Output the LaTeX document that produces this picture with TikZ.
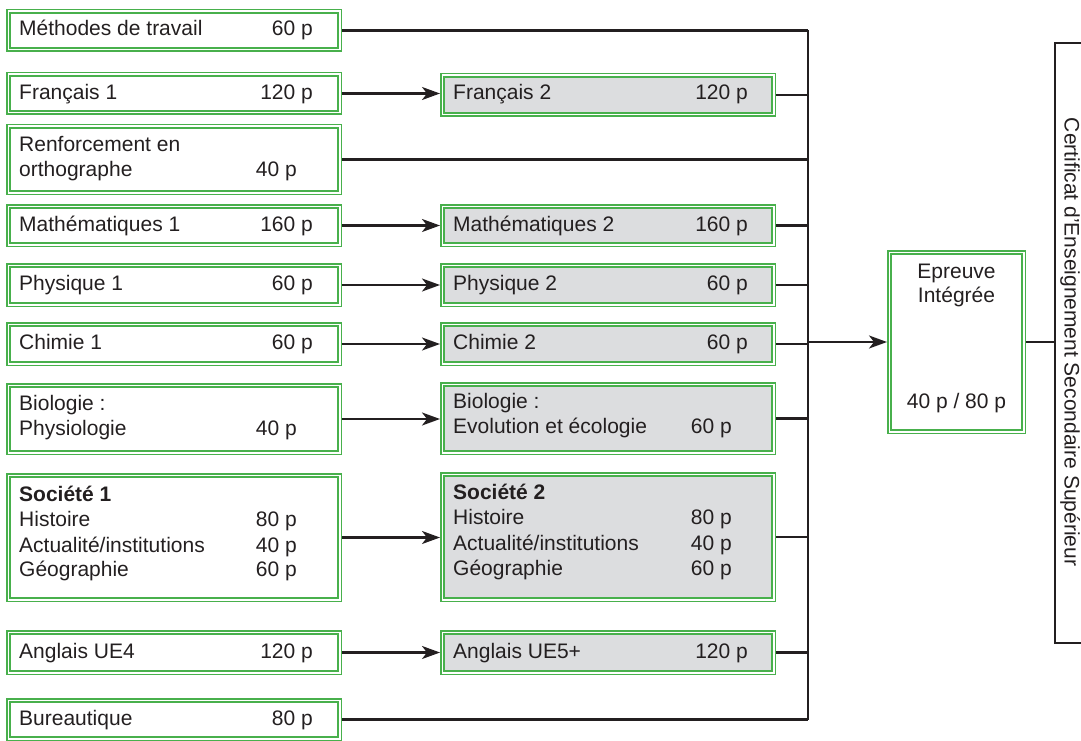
\documentclass[tikz,border=0pt]{standalone}
\usepackage{fontspec}
\setmainfont{Liberation Sans}
\usetikzlibrary{arrows.meta}
\definecolor{boxgreen}{RGB}{72,176,76}
\definecolor{boxgray}{RGB}{220,221,223}
\definecolor{ink}{RGB}{35,31,32}
\begin{document}
\begin{tikzpicture}[x=1pt,y=-1pt,
  box/.style={draw=boxgreen, double=white, line width=1.5pt, double distance=1.8pt,
    outer sep=2.4pt, inner sep=0pt, anchor=north west, minimum width=331.2pt},
  graybox/.style={box, fill=boxgray},
  lbl/.style={font=\fontsize{21}{26}\selectfont, text=ink, inner sep=0pt, anchor=base west},
  num/.style={lbl, anchor=base east},
  mid/.style={lbl, anchor=base},
  conn/.style={draw=ink, line width=2.2pt},
  arr/.style={conn, -{Stealth[length=18pt, width=13pt, inset=5pt]}}
]
\useasboundingbox (0,0) rectangle (1081,741);

% ---------- column 1 ----------
\node[box, minimum height=38.2pt] (meth) at (6,9) {};
\node[box, minimum height=38.2pt] (fr1) at (6,72) {};
\node[box, minimum height=66.2pt] (renf) at (6,124) {};
\node[box, minimum height=38.2pt] (math1) at (6,204) {};
\node[box, minimum height=39.2pt] (phys1) at (6,263) {};
\node[box, minimum height=39.2pt] (chim1) at (6,322) {};
\node[box, minimum height=67.2pt] (bio1) at (6,383) {};
\node[box, minimum height=124.2pt] (soc1) at (6,473) {};
\node[box, minimum height=40.2pt] (angl1) at (6,630) {};
\node[box, minimum height=38.2pt] (bur) at (6,698) {};

% ---------- column 2 ----------
\node[graybox, minimum height=39.2pt] (fr2) at (440,73) {};
\node[graybox, minimum height=38.2pt] (math2) at (440,204) {};
\node[graybox, minimum height=39.2pt] (phys2) at (440,263) {};
\node[graybox, minimum height=39.2pt] (chim2) at (440,322) {};
\node[graybox, minimum height=68.2pt] (bio2) at (440,382) {};
\node[graybox, minimum height=125.2pt] (soc2) at (440,472) {};
\node[graybox, minimum height=40.2pt] (angl2) at (440,630) {};

% ---------- epreuve & certificat ----------
\node[box, minimum width=134.2pt, minimum height=179.2pt] (epr) at (887,250) {};
\node[draw=ink, line width=2.2pt, anchor=north west, minimum width=60pt, minimum height=600pt, inner sep=0pt] (cert) at (1054,42) {};

% ---------- texts column 1 ----------
\node[lbl] (t1) at (19,36) {Méthodes de travail};
\node[num] (n1) at (313,36) {60 p};
\node[lbl] (t2) at (19,100) {Français 1};
\node[num] (n2) at (313,100) {120 p};
\node[lbl] (t3a) at (19,151.7) {Renforcement en};
\node[lbl] (t3b) at (19,176) {orthographe};
\node[num] (n3) at (297,176) {40 p};
\node[lbl] (t4) at (19,231.7) {Mathématiques 1};
\node[num] (n4) at (313,231.7) {160 p};
\node[lbl] (t5) at (19,290) {Physique 1};
\node[num] (n5) at (313,290) {60 p};
\node[lbl] (t6) at (19,349.3) {Chimie 1};
\node[num] (n6) at (313,349.3) {60 p};
\node[lbl] (t7a) at (19,410.7) {Biologie :};
\node[lbl] (t7b) at (19,435) {Physiologie};
\node[num] (n7) at (297,435) {40 p};
\node[lbl, font=\fontsize{21}{26}\selectfont\bfseries] (t8a) at (19,501) {Société 1};
\node[lbl] (t8b) at (19,526.7) {Histoire};
\node[num] (n8b) at (297,526.7) {80 p};
\node[lbl] (t8c) at (19,552.3) {Actualité/institutions};
\node[num] (n8c) at (297,552.3) {40 p};
\node[lbl] (t8d) at (19,576.7) {Géographie};
\node[num] (n8d) at (297,576.7) {60 p};
\node[lbl] (t9) at (19,658.3) {Anglais UE4};
\node[num] (n9) at (313,658.3) {120 p};
\node[lbl] (t10) at (19,725) {Bureautique};
\node[num] (n10) at (313,725) {80 p};

% ---------- texts column 2 ----------
\node[lbl] (u2) at (453,100) {Français 2};
\node[num] (m2) at (748,100) {120 p};
\node[lbl] (u4) at (453,231.7) {Mathématiques 2};
\node[num] (m4) at (748,231.7) {160 p};
\node[lbl] (u5) at (453,290) {Physique 2};
\node[num] (m5) at (748,290) {60 p};
\node[lbl] (u6) at (453,349.3) {Chimie 2};
\node[num] (m6) at (748,349.3) {60 p};
\node[lbl] (u7a) at (453,408.3) {Biologie :};
\node[lbl] (u7b) at (453,433.3) {Evolution et écologie};
\node[num] (m7) at (732,433.3) {60 p};
\node[lbl, font=\fontsize{21}{26}\selectfont\bfseries] (u8a) at (453,499.3) {Société 2};
\node[lbl] (u8b) at (453,524) {Histoire};
\node[num] (m8b) at (732,524) {80 p};
\node[lbl] (u8c) at (453,550.7) {Actualité/institutions};
\node[num] (m8c) at (732,550.7) {40 p};
\node[lbl] (u8d) at (453,575) {Géographie};
\node[num] (m8d) at (732,575) {60 p};
\node[lbl] (u9) at (453,658.3) {Anglais UE5+};
\node[num] (m9) at (748,658.3) {120 p};

% ---------- epreuve / certificat texts ----------
\node[mid] (e1) at (956.5,278.3) {Epreuve};
\node[mid] (e2) at (956.5,302.7) {Intégrée};
\node[mid] (e3) at (956.5,408.3) {40 p / 80 p};
\node[mid, rotate=-90] (ct) at (1064.5,342) {Certificat d'Enseignement Secondaire Supérieur};

% ---------- connectors ----------
\coordinate (bustop) at (808,30.5);
\coordinate (busbot) at (808,719.5);
\draw[conn] (bustop) -- (busbot);

\foreach \a/\b in {fr1/fr2, math1/math2, phys1/phys2, chim1/chim2, bio1/bio2, soc1/soc2, angl1/angl2}
  \draw[arr] (\a.east) -- (\a.east -| \b.west);

\foreach \n in {meth, renf, bur, fr2, math2, phys2, chim2, bio2, soc2, angl2}
  \draw[conn] (\n.east) -- (\n.east -| bustop);

\draw[arr] (epr.west -| bustop) -- (epr.west);
\draw[conn] (epr.east) -- (epr.east -| cert.west);
\end{tikzpicture}
\end{document}
